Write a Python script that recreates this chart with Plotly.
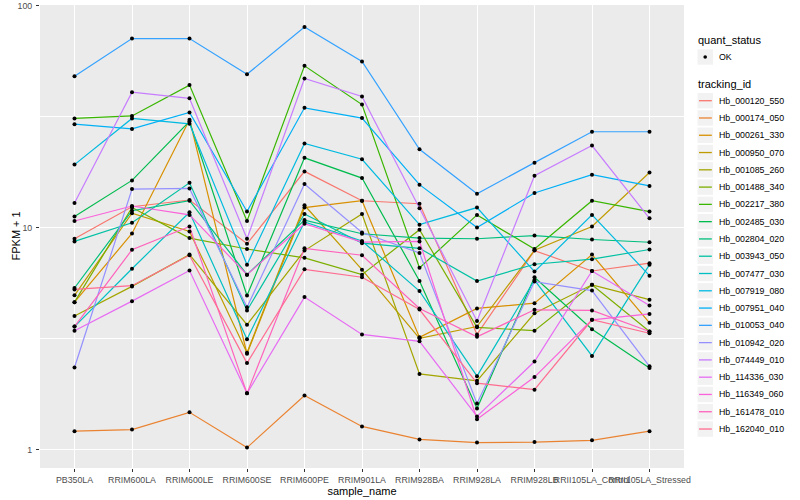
import plotly.graph_objects as go

samples = ["PB350LA", "RRIM600LA", "RRIM600LE", "RRIM600SE", "RRIM600PE", "RRIM901LA",
           "RRIM928BA", "RRIM928LA", "RRIM928LB", "RRII105LA_Control", "RRII105LA_Stressed"]

tracking_ids = ["Hb_000120_550", "Hb_000174_050", "Hb_000261_330", "Hb_000950_070",
                "Hb_001085_260", "Hb_001488_340", "Hb_002217_380", "Hb_002485_030",
                "Hb_002804_020", "Hb_003943_050", "Hb_007477_030", "Hb_007919_080",
                "Hb_007951_040", "Hb_010053_040", "Hb_010942_020", "Hb_074449_010",
                "Hb_114336_030", "Hb_116349_060", "Hb_161478_010", "Hb_162040_010"]

palette = ["#F8766D", "#EA8331", "#D89000", "#C09B00", "#A3A500", "#7CAE00", "#39B600",
           "#00BB4E", "#00BF7D", "#00C1A3", "#00BFC4", "#00BAE0", "#00B0F6", "#35A2FF",
           "#9590FF", "#C77CFF", "#E76BF3", "#FA62DB", "#FF62BC", "#FF6C91"]

# FPKM + 1 per gene, one value per sample
Hb_000120_550 = [8.9, 12.4, 13.3, 8.45, 17.9, 13.2, 12.8, 3.3, 7.87, 6.37, 6.91]
Hb_000174_050 = [1.21, 1.23, 1.47, 1.02, 1.75, 1.27, 1.11, 1.075, 1.08, 1.10, 1.21]
Hb_000261_330 = [4.61, 9.4, 30.6, 2.70, 12.3, 13.2, 3.2, 4.32, 4.56, 7.55, 3.72]
Hb_000950_070 = [4.95, 11.6, 9.6, 2.73, 12.6, 6.46, 3.17, 3.58, 7.9, 10.1, 17.7]
Hb_001085_260 = [3.99, 5.43, 7.55, 3.65, 7.87, 11.5, 2.19, 2.04, 4.11, 5.52, 4.73]
Hb_001488_340 = [4.61, 12.3, 8.96, 8.0, 7.3, 6.13, 9.77, 3.55, 3.43, 5.52, 3.4]
Hb_002217_380 = [31, 31.8, 43.8, 10.7, 53.5, 35.8, 6.58, 11.4, 8.0, 13.2, 11.8]
Hb_002485_030 = [11.2, 16.3, 30.1, 4.94, 20.6, 16.7, 5.74, 1.53, 5.97, 3.48, 2.33]
Hb_002804_020 = [5.34, 11.9, 13.2, 6.13, 10.8, 9.37, 8.96, 8.9, 9.2, 8.83, 8.58]
Hb_003943_050 = [8.66, 10.5, 15.9, 4.23, 11.5, 8.5, 8.06, 5.74, 6.83, 7.2, 7.96]
Hb_007477_030 = [3.58, 6.52, 11.7, 3.14, 10.6, 8.7, 5.17, 2.14, 5.8, 2.64, 6.8]
Hb_007919_080 = [19.2, 31, 29.3, 6.8, 23.9, 20.3, 10.3, 12.3, 6.33, 11.4, 6.07]
Hb_007951_040 = [29.2, 27.8, 33, 11.8, 34.6, 31.1, 15.6, 10.0, 14.3, 17.3, 15.4]
Hb_010053_040 = [48, 71, 71, 49, 80, 56, 22.5, 14.2, 19.6, 27, 27]
Hb_010942_020 = [2.34, 14.9, 15.0, 4.37, 15.7, 9.5, 7.68, 1.61, 5.71, 5.2, 2.37]
Hb_074449_010 = [12.9, 40.7, 38.2, 8.9, 46.9, 38.9, 12.2, 3.79, 17.1, 23.4, 11.0]
Hb_114336_030 = [3.43, 4.66, 6.4, 1.79, 4.86, 3.3, 3.07, 1.41, 2.49, 6.37, 4.45]
Hb_116349_060 = [10.7, 12.5, 11.4, 6.13, 10.4, 8.6, 8.66, 1.37, 2.12, 3.84, 4.08]
Hb_161478_010 = [3.58, 7.94, 10.1, 1.79, 8.06, 7.5, 4.32, 3.22, 4.26, 4.23, 3.4]
Hb_162040_010 = [5.26, 5.47, 7.5, 2.45, 6.48, 5.97, 4.27, 1.99, 1.86, 3.84, 3.34]

series = [Hb_000120_550, Hb_000174_050, Hb_000261_330, Hb_000950_070, Hb_001085_260,
          Hb_001488_340, Hb_002217_380, Hb_002485_030, Hb_002804_020, Hb_003943_050,
          Hb_007477_030, Hb_007919_080, Hb_007951_040, Hb_010053_040, Hb_010942_020,
          Hb_074449_010, Hb_114336_030, Hb_116349_060, Hb_161478_010, Hb_162040_010]

quant_status = ["OK"]

FONT = "Liberation Sans"
W, H = 800, 500
ML, MR, MT, MB = 40, 116, 5, 32
PW, PH = W - ML - MR, H - MT - MB


def px(x):
    return (x - ML) / PW


def py(y):
    return (H - MB - y) / PH


fig = go.Figure()

for name, vals, col in zip(tracking_ids, series, palette):
    fig.add_trace(go.Scatter(x=samples, y=vals, mode="lines", name=name,
                             line=dict(color=col, width=1.2), showlegend=False,
                             hoverinfo="skip"))

for name, vals in zip(tracking_ids, series):
    fig.add_trace(go.Scatter(x=samples, y=vals, mode="markers", name=name,
                             marker=dict(color="black", size=4, symbol="circle"),
                             showlegend=False))

# manual ggplot-style legend
shapes = []
annotations = []
KX0, KX1 = 697.5, 713.0
annotations.append(dict(x=px(696), y=py(40), xref="paper", yref="paper", text="quant_status",
                        showarrow=False, xanchor="left", yanchor="middle",
                        font=dict(family=FONT, size=11, color="black")))
shapes.append(dict(type="rect", xref="paper", yref="paper", x0=px(KX0), x1=px(KX1),
                   y0=py(57 - 7.7), y1=py(57 + 7.7), fillcolor="#F2F2F2", line=dict(width=0),
                   layer="below"))
shapes.append(dict(type="circle", xref="paper", yref="paper", x0=px(705.2 - 1.8), x1=px(705.2 + 1.8),
                   y0=py(57 - 1.8), y1=py(57 + 1.8), fillcolor="black", line=dict(width=0)))
annotations.append(dict(x=px(716.5), y=py(57), xref="paper", yref="paper", text=quant_status[0],
                        showarrow=False, xanchor="left", yanchor="middle",
                        font=dict(family=FONT, size=8.8, color="black")))
annotations.append(dict(x=px(696), y=py(84), xref="paper", yref="paper", text="tracking_id",
                        showarrow=False, xanchor="left", yanchor="middle",
                        font=dict(family=FONT, size=11, color="black")))
for i, (name, col) in enumerate(zip(tracking_ids, palette)):
    cy = 100.7 + 17.28 * i
    shapes.append(dict(type="rect", xref="paper", yref="paper", x0=px(KX0), x1=px(KX1),
                       y0=py(cy - 7.7), y1=py(cy + 7.7), fillcolor="#F2F2F2",
                       line=dict(width=0), layer="below"))
    shapes.append(dict(type="line", xref="paper", yref="paper", x0=px(699), x1=px(711.8),
                       y0=py(cy), y1=py(cy), line=dict(color=col, width=1.3)))
    annotations.append(dict(x=px(716.5), y=py(cy), xref="paper", yref="paper", text=name,
                            showarrow=False, xanchor="left", yanchor="middle",
                            font=dict(family=FONT, size=8.8, color="black")))

# y-axis title placed like ggplot's
annotations.append(dict(x=px(15), y=py(236.5), xref="paper", yref="paper", text="FPKM + 1",
                        textangle=-90, showarrow=False, xanchor="center", yanchor="middle",
                        font=dict(family=FONT, size=11, color="black")))

fig.update_layout(
    width=W, height=H,
    margin=dict(l=ML, r=MR, t=MT, b=MB, pad=0),
    paper_bgcolor="white", plot_bgcolor="#EBEBEB",
    font=dict(family=FONT, size=8.8, color="#4D4D4D"),
    showlegend=False,
    shapes=shapes, annotations=annotations,
)
fig.update_xaxes(
    type="category", categoryorder="array", categoryarray=samples,
    range=[-0.6, len(samples) - 0.4],
    showgrid=True, gridcolor="white", gridwidth=1.3,
    ticks="outside", ticklen=3, tickwidth=1, tickcolor="#333333",
    tickfont=dict(family=FONT, size=8.8, color="#4D4D4D"),
    showline=False, zeroline=False, automargin=False, tickangle=0,
    title=dict(text="sample_name", font=dict(family=FONT, size=11, color="black"), standoff=1),
)
fig.update_yaxes(
    type="log", range=[-0.0833, 2.0023],
    tickvals=[1, 10, 100], ticktext=["1", "10", "100"],
    showgrid=True, gridcolor="white", gridwidth=1.3,
    minor=dict(tickvals=[10 ** 0.5, 10 ** 1.5], showgrid=True, gridcolor="white",
               gridwidth=0.6, ticks=""),
    ticks="outside", ticklen=3, tickwidth=1, tickcolor="#333333",
    tickfont=dict(family=FONT, size=8.8, color="#4D4D4D"),
    ticklabelstandoff=2,
    showline=False, zeroline=False, automargin=False,
)

fig.write_html("out.html", config={"displayModeBar": False},
               post_script="document.body.style.margin='0px';")
